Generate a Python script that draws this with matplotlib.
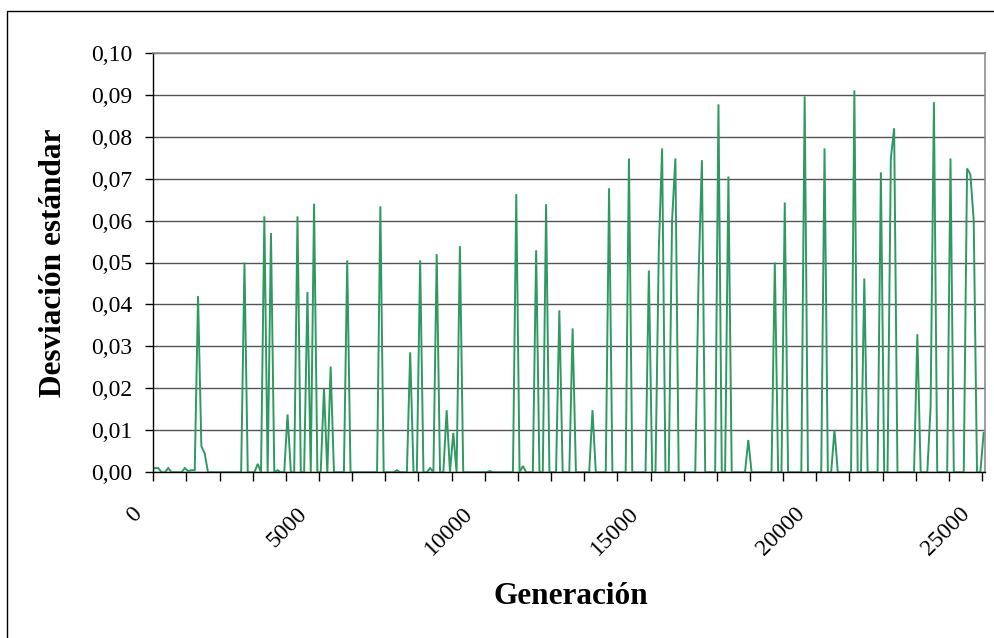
import numpy as np
import matplotlib
matplotlib.use("Agg")
import matplotlib.pyplot as plt
from matplotlib.patches import Rectangle
from matplotlib.transforms import ScaledTranslation

# Generations sampled every 100 steps
generacion = np.arange(0, 25001, 100)

# Standard deviation per sampled generation (rows of ten samples)
desviacion = [
    0.001, 0.001, 0, 0, 0.001, 0, 0, 0, 0, 0.001,
    0.0003, 0.0005, 0.0005, 0.042, 0.0062, 0.0045, 0, 0, 0, 0,
    0, 0, 0, 0, 0, 0, 0, 0.050, 0, 0,
    0, 0.002, 0, 0.061, 0, 0.057, 0, 0.0005, 0, 0,
    0.0138, 0, 0, 0.061, 0, 0, 0.043, 0, 0.064, 0,
    0, 0.020, 0, 0.0252, 0, 0, 0, 0, 0.0505, 0,
    0, 0, 0, 0, 0, 0, 0, 0, 0.0634, 0,
    0, 0, 0, 0.0005, 0, 0, 0, 0.0286, 0, 0,
    0.0505, 0, 0, 0.001, 0, 0.052, 0, 0, 0.0148, 0,
    0.0094, 0, 0.0539, 0, 0, 0, 0, 0, 0, 0,
    0, 0.0003, 0, 0, 0, 0, 0, 0, 0, 0.0663,
    0, 0.0015, 0, 0, 0, 0.0529, 0, 0, 0.0639, 0,
    0, 0, 0.0386, 0, 0, 0, 0.0343, 0, 0, 0,
    0, 0, 0.0148, 0, 0, 0, 0, 0.0677, 0, 0,
    0, 0, 0, 0.0748, 0, 0, 0, 0, 0, 0.0481,
    0, 0, 0.053, 0.0772, 0, 0, 0.060, 0.0748, 0, 0,
    0, 0, 0, 0, 0.0466, 0.0744, 0, 0, 0, 0,
    0.0877, 0, 0, 0.0705, 0, 0, 0, 0, 0, 0.0077,
    0, 0, 0, 0, 0, 0, 0, 0.0500, 0, 0,
    0.0643, 0, 0, 0, 0, 0, 0.0896, 0, 0, 0,
    0, 0, 0.0772, 0, 0, 0.0101, 0, 0, 0, 0,
    0, 0.0910, 0, 0, 0.0462, 0, 0, 0, 0, 0.0715,
    0, 0, 0.0748, 0.0820, 0, 0, 0, 0, 0, 0,
    0.0329, 0, 0, 0, 0.0156, 0.0882, 0, 0, 0, 0,
    0.0748, 0, 0, 0, 0, 0.0724, 0.0710, 0.0601, 0, 0,
    0.0094,
]

y_ticks = [0.00, 0.01, 0.02, 0.03, 0.04, 0.05, 0.06, 0.07, 0.08, 0.09, 0.10]
x_labels = [0, 5000, 10000, 15000, 20000, 25000]

plt.rcParams["font.family"] = ["Liberation Serif", "DejaVu Serif"]

W, H = 994, 638
fig = plt.figure(figsize=(W / 100, H / 100), dpi=100)
fig.patch.set_facecolor("white")

# plot area in pixel coordinates
left_px, right_px, top_px, bottom_px = 153.3, 985.3, 52.7, 472.3
ax = fig.add_axes([left_px / W, 1 - bottom_px / H,
                   (right_px - left_px) / W, (bottom_px - top_px) / H])

ax.plot(generacion, desviacion, color="#2e9a62", lw=1.4, solid_joinstyle="miter")

step = generacion[1] - generacion[0]
ax.set_xlim(generacion[0] - step / 2, generacion[-1] + step / 2)
ax.set_ylim(0, 0.10)

# horizontal gridlines
ax.set_yticks(y_ticks)
ax.set_yticklabels([f"{v:.2f}".replace(".", ",") for v in y_ticks], fontsize=17)
ax.yaxis.grid(True, color="#555555", lw=1.0)
ax.set_axisbelow(True)
ax.tick_params(axis="y", direction="out", length=5.8, width=1, color="black", pad=9)

# category boundary tick marks every ten samples
ax.set_xticks(np.arange(generacion[0] - step / 2, generacion[-1], 10 * step))
ax.set_xticklabels([])
ax.tick_params(axis="x", which="major", direction="out", length=6.5, width=1, color="black")

# rotated generation labels
ax.set_xticks(x_labels, minor=True)
ax.set_xticklabels([str(v) for v in x_labels], minor=True, fontsize=17,
                   rotation=45, ha="right", va="top", rotation_mode="anchor")
ax.tick_params(axis="x", which="minor", length=0, pad=22.5)
offset = ScaledTranslation(-24 / 100, 0, fig.dpi_scale_trans)
for lab in ax.xaxis.get_minorticklabels():
    lab.set_transform(lab.get_transform() + offset)

for side in ("top", "right"):
    ax.spines[side].set_color("#8c8c8c")
    ax.spines[side].set_linewidth(1.2)
for side in ("left", "bottom"):
    ax.spines[side].set_color("black")
    ax.spines[side].set_linewidth(1.0)

ax.set_ylabel("Desviación estándar", fontsize=22.5, fontweight="bold", labelpad=0)
ax.yaxis.set_label_coords((68 - left_px) / (right_px - left_px), 0.5)
fig.text(571 / W, 1 - 597 / H, "Generación", fontsize=22.5, fontweight="bold",
         ha="center", va="center")

# chart area border
fig.patches.append(Rectangle((7 / W, -0.1), 1.2, 1 - 11 / H + 0.1,
                             transform=fig.transFigure, fill=False,
                             edgecolor="black", lw=1.0, clip_on=False))

fig.savefig("out.png", dpi=100)
